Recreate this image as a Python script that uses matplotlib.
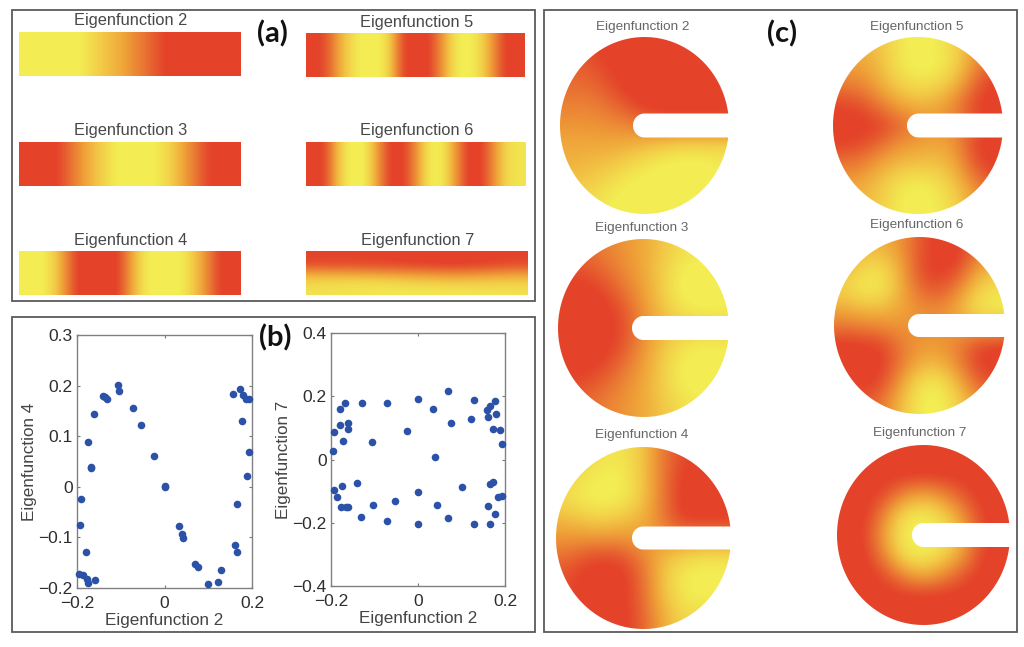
import numpy as np
import matplotlib
matplotlib.use("Agg")
import matplotlib.pyplot as plt
from matplotlib.colors import LinearSegmentedColormap
from matplotlib.patches import Rectangle, PathPatch
from matplotlib.path import Path

W, H = 1024, 647
plt.rcParams['font.family'] = ['Liberation Sans', 'DejaVu Sans']

# ---- scatter data (b)
b_x4 = [-.106,-.105,-.141,-.135,-.131,-.071,-.054,-.025,0,.001,.034,.04,.043,.070,.076,.100,.123,.128,.160,.166,.166,.189,.192,.178,.157,.173,.179,.186,.194,-.162,-.174,-.167,-.168,-.192,-.194,-.179,-.195,-.186,-.178,-.175,-.160]
b_y4 = [.202,.189,.180,.178,.174,.155,.122,.061,.001,-.001,-.078,-.094,-.101,-.153,-.159,-.192,-.188,-.165,-.116,-.128,-.034,.022,.069,.131,.184,.194,.182,.174,.173,.143,.089,.040,.037,-.024,-.075,-.129,-.172,-.175,-.182,-.191,-.184]
b_x7 = [-.167,-.179,-.129,-.071,0,.034,.070,.129,.178,.165,.159,.160,.180,.122,.077,.172,.189,.194,.040,-.025,-.106,-.160,-.161,-.180,-.192,-.173,-.195,-.140,-.174,-.193,-.186,-.178,-.166,-.160,-.131,-.104,-.071,-.053,0,0,.043,.070,.100,.129,.166,.173,.160,.178,.166,.185,.192]
b_y7 = [.178,.160,.180,.180,.191,.160,.217,.189,.185,.168,.158,.134,.145,.128,.114,.095,.093,.050,.009,.089,.056,.115,.097,.110,.087,.060,.028,-.074,-.083,-.096,-.120,-.149,-.151,-.149,-.182,-.145,-.196,-.131,-.102,-.205,-.145,-.184,-.088,-.203,-.078,-.071,-.148,-.172,-.203,-.120,-.115]
x_ticks = [-0.2, 0, 0.2]
y4_ticks = [-0.2, -0.1, 0, 0.1, 0.2, 0.3]
y7_ticks = [-0.4, -0.2, 0, 0.2, 0.4]

# ---- strip profiles (a): 0 = yellow, 1 = red
strip2 = [[0,0,0,0,.03,.15,.3,.4,.55,.7,.85,1,1,1,1,1,1]]
strip3 = [[1,1,1,.85,.6,.4,.2,.05,0,0,.05,.2,.45,.7,.95,1,1]]
strip4 = [[0,0,.15,.55,1,1,1,1,.55,.1,0,0,.05,.3,.65,1,1]]
strip5 = [[1,.9,.5,.15,0,0,.2,.95,1,1,.6,.1,0,.15,.55,1,1]]
strip6 = [[1,.95,.3,0,0,.5,1,1,.6,.05,.03,.5,1,1,.6,.15,.1]]
strip7 = [[.95,.95,1,1,.95],[.9,.9,.95,1,.9],[.5,.55,.6,.65,.55],[.2,.15,.25,.3,.25],[.12,.1,.08,.1,.12]]

# ---- disc grids (c), top row first, left column first
disc2 = [[.8,.9,1,1,1,1,1,1,1],[.8,.85,.95,1,1,1,1,1,1],[.75,.75,.85,1,1,1,1,1,1],[.65,.65,.72,.85,1,1,1,1,1],[.55,.55,.58,.62,.7,.8,.8,.8,.8],[.45,.45,.45,.42,.35,.25,.2,.2,.2],[.4,.35,.3,.2,.1,.03,0,0,.05],[.3,.25,.15,.05,0,0,0,0,.05],[.2,.15,.05,0,0,0,0,0,.05]]
disc3 = [[.8,.75,.65,.55,.45,.3,.15,.1,.1],[.9,.85,.75,.6,.45,.25,.05,0,0],[1,1,.9,.7,.5,.25,0,0,0],[1,1,1,.85,.55,.3,.1,.03,.03],[1,1,1,.9,.6,.4,.3,.25,.25],[1,1,1,.85,.55,.3,.1,.03,.05],[1,1,.9,.7,.5,.25,.03,0,0],[.9,.85,.75,.6,.45,.25,.05,0,0],[.8,.75,.65,.55,.45,.3,.15,.1,.1]]
disc4 = [[.3,.2,.1,.1,.3,.7,.9,1,1],[.2,.1,.02,.05,.3,.7,1,1,1],[.15,.03,0,.05,.3,.7,1,1,1],[.35,.25,.2,.3,.4,.7,1,1,1],[.55,.55,.55,.55,.5,.55,.6,.6,.6],[.75,.9,.95,.9,.65,.35,.2,.1,.1],[.9,1,1,1,.75,.3,.05,0,.03],[.9,1,1,1,.75,.35,.1,.03,.1],[.9,1,1,1,.8,.45,.2,.2,.2]]
disc5 = [[.4,.4,.3,.1,0,.05,.2,.5,.7],[.5,.5,.35,.1,0,.03,.2,.6,.85],[.7,.65,.45,.25,.15,.2,.4,.8,1],[.95,.9,.7,.5,.4,.45,.65,.95,1],[1,1,.98,.8,.65,.55,.6,.85,1],[.95,.9,.75,.55,.5,.45,.55,.95,1],[.7,.65,.45,.35,.3,.3,.45,.85,1],[.5,.45,.3,.1,.03,.1,.3,.6,.85],[.4,.35,.25,.05,0,.05,.2,.5,.7]]
disc6 = [[.5,.4,.4,.55,.85,1,1,.8,.6],[.4,.2,.15,.45,.9,1,.95,.55,.35],[.2,.05,.05,.4,.8,.9,.7,.3,.15],[.4,.3,.3,.45,.6,.65,.45,.1,.03],[.7,.65,.6,.55,.55,.55,.5,.4,.35],[1,1,.95,.7,.55,.55,.65,.9,1],[1,1,1,.7,.4,.35,.6,.95,1],[.9,1,.9,.5,.1,.05,.35,.75,.9],[.8,.85,.7,.35,.05,0,.2,.5,.7]]
disc7 = [[1,1,1,1,1,1,1,1,1],[1,1,1,1,1,1,1,1,1],[1,1,.9,.6,.45,.6,.85,1,1],[1,1,.6,.12,.05,.2,.55,.95,1],[1,.95,.45,.03,0,.05,.4,.9,1],[1,1,.6,.12,.03,.2,.5,.95,1],[1,1,.9,.6,.42,.6,.85,1,1],[1,1,1,1,1,1,1,1,1],[1,1,1,1,1,1,1,1,1]]

cmap = LinearSegmentedColormap.from_list(
    "yr", [(0, "#F3EC52"), (.05, "#F3EC52"), (.28, "#F2C846"), (.5, "#EFA038"),
           (.72, "#E97433"), (.95, "#E4432A"), (1, "#E4432A")])

fig = plt.figure(figsize=(W/100, H/100), dpi=100, facecolor="white")

def axpx(l, t, r, b):
    return fig.add_axes([l/W, 1-b/H, (r-l)/W, (b-t)/H])

def frame(l, t, r, b):
    fig.add_artist(Rectangle((l/W, 1-b/H), (r-l)/W, (b-t)/H, transform=fig.transFigure,
                             fill=False, ec="#5a5a5a", lw=1.3))

def ftext(x, y, s, **kw):
    fig.text(x/W, 1-y/H, s, ha="center", va="center", **kw)

frame(12, 10, 535, 301)
frame(12, 317, 535, 632)
frame(544, 10, 1017, 632)

# (a) strips
strips = [(strip2, 19, 32, 241, 76, "Eigenfunction 2", 131, 21),
          (strip3, 19, 142, 241, 186, "Eigenfunction 3", 131, 131),
          (strip4, 19, 251, 241, 295, "Eigenfunction 4", 131, 241),
          (strip5, 306, 33, 525, 77, "Eigenfunction 5", 417, 22),
          (strip6, 306, 142, 526, 186, "Eigenfunction 6", 417, 131),
          (strip7, 306, 251, 528, 295, "Eigenfunction 7", 418, 240)]
for vals, l, t, r, b, title, tx, ty in strips:
    ax = axpx(l, t, r, b)
    arr = np.array(vals, float)
    if arr.shape[0] == 1:
        arr = np.vstack([arr, arr])
    ax.imshow(arr, cmap=cmap, vmin=0, vmax=1, aspect="auto", interpolation="bicubic")
    ax.axis("off")
    ftext(tx, ty, title, fontsize=11.8, color="#484848")

# (b) scatters
def scatter(box, xs, ys, ylim, yticks, ylabel):
    ax = axpx(*box)
    ax.scatter(xs, ys, s=30, color="#2C52A8", linewidths=0, clip_on=False, zorder=3)
    ax.set_xlim(-.2, .2)
    ax.set_ylim(*ylim)
    ax.set_xticks(x_ticks, ["\u22120.2", "0", "0.2"])
    ax.set_yticks(yticks, [("\u2212" if v < 0 else "") + (f"{abs(v):g}") for v in yticks])
    ax.tick_params(direction="in", length=2, width=.8, top=True, right=True, color="#777777",
                   labelsize=12.5, labelcolor="#2e2e2e")
    ax.tick_params(axis="x", pad=6)
    ax.tick_params(axis="y", pad=3)
    for s in ax.spines.values():
        s.set_color("#808080")
        s.set_linewidth(1.0)
    ax.set_xlabel("Eigenfunction 2", fontsize=12.3, color="#444444", labelpad=1)
    ax.set_ylabel(ylabel, fontsize=12.3, color="#444444", labelpad=1)

scatter((77, 335, 252, 588), b_x4, b_y4, (-.2, .3), y4_ticks, "Eigenfunction 4")
scatter((331, 333, 505, 586), b_x7, b_y7, (-.4, .4), y7_ticks, "Eigenfunction 7")

# (c) discs
def disc_path(h, xs):
    a = np.arcsin(h)
    t = np.linspace(a, 2*np.pi-a, 200)
    u = np.linspace(-np.pi/2, -3*np.pi/2, 30)
    x = np.r_[np.cos(t), xs+h+h*np.cos(u)]
    y = np.r_[np.sin(t), h*np.sin(u)]
    v = np.c_[x, y]
    return Path(np.vstack([v, v[0]]), closed=True)

discs = [(disc2, 560, 37, 729, 214, 114, 138, 633, "Eigenfunction 2", 643, 27),
         (disc3, 558, 239, 729, 417, 316, 340, 632, "Eigenfunction 3", 642, 228),
         (disc4, 556, 447, 731, 629, 527, 550, 632, "Eigenfunction 4", 642, 435),
         (disc5, 833, 37, 1003, 214, 114, 138, 907, "Eigenfunction 5", 917, 27),
         (disc6, 834, 237, 1005, 414, 314, 337, 908, "Eigenfunction 6", 917, 225),
         (disc7, 837, 445, 1010, 625, 523, 547, 912, "Eigenfunction 7", 920, 433)]
for vals, l, t, r, b, st, sb, sl, title, tx, ty in discs:
    ax = axpx(l, t, r, b)
    im = ax.imshow(np.array(vals, float), cmap=cmap, vmin=0, vmax=1, aspect="auto",
                   interpolation="bicubic", extent=(-1, 1, -1, 1))
    ax.set_xlim(-1, 1)
    ax.set_ylim(-1, 1)
    h = (sb-st)/(b-t)
    xs = (sl-(l+r)/2)/((r-l)/2)
    clip = PathPatch(disc_path(h, xs), transform=ax.transData, fc="none", ec="none")
    ax.add_patch(clip)
    im.set_clip_path(clip)
    ax.axis("off")
    ftext(tx, ty, title, fontsize=9.7, color="#666666")

for s, x, y in [("(a)", 272, 34), ("(b)", 275, 338), ("(c)", 782, 34)]:
    ftext(x, y, s, fontsize=21, fontweight="bold", color="#111111", family=["Lato", "DejaVu Sans"])

fig.savefig("out.png", dpi=100)
